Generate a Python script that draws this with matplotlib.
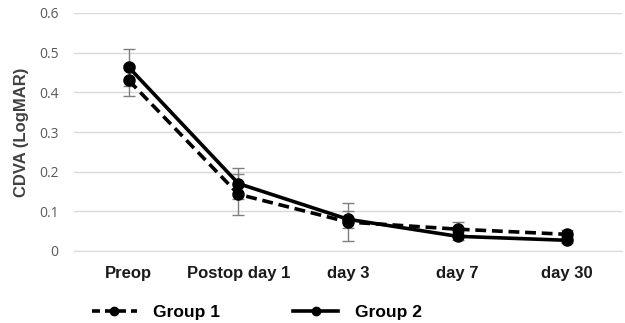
import matplotlib
matplotlib.use("Agg")
import matplotlib.pyplot as plt
from matplotlib.lines import Line2D

categories = ["Preop", "Postop day 1", "day 3", "day 7", "day 30"]
group1 = [0.430, 0.143, 0.073, 0.055, 0.042]
group1_err = [0.040, 0.052, 0.048, 0.018, 0.011]
group2 = [0.463, 0.170, 0.080, 0.037, 0.027]
group2_err = [0.047, 0.039, 0.022, 0.010, 0.008]
yticks = [0, 0.1, 0.2, 0.3, 0.4, 0.5, 0.6]
ytick_labels = ["0", "0.1", "0.2", "0.3", "0.4", "0.5", "0.6"]

fig = plt.figure(figsize=(6.25, 3.23), dpi=100)
ax = fig.add_axes([74/625, 1-251/323, 548/625, 238/323])

x = list(range(len(categories)))
ax.errorbar(x, group1, yerr=group1_err, fmt="none", ecolor="#7f7f7f",
            elinewidth=1, capsize=4, capthick=1, zorder=2)
ax.errorbar(x, group2, yerr=group2_err, fmt="none", ecolor="#7f7f7f",
            elinewidth=1, capsize=4, capthick=1, zorder=2)
ax.plot(x, group1, color="black", linestyle=(0, (3, 1.6)), linewidth=2.6,
        marker="o", markersize=8, zorder=3, label="Group 1")
ax.plot(x, group2, color="black", linestyle="-", linewidth=2.6,
        marker="o", markersize=8, zorder=4, label="Group 2")

ax.set_xlim(-0.5, len(categories) - 0.5)
ax.set_ylim(0, 0.6)
ax.set_yticks(yticks)
ax.set_yticklabels(ytick_labels, color="#595959", fontsize=10,
                   family="Open Sans")
ax.set_xticks(x)
ax.set_xticklabels(categories, fontsize=12, fontweight="bold",
                   family="Liberation Sans", color="#1a1a1a")
ax.tick_params(axis="x", length=0, pad=11)
ax.tick_params(axis="y", length=0, pad=11)
ax.yaxis.grid(True, color="#d9d9d9", linewidth=1)
ax.set_axisbelow(True)
for s in ax.spines.values():
    s.set_visible(False)
ax.spines["bottom"].set_visible(True)
ax.spines["bottom"].set_color("#d9d9d9")

ax.set_ylabel("CDVA (LogMAR)", fontsize=12, fontweight="bold",
              family="Liberation Sans", color="#404040", labelpad=7)

handles = [
    Line2D([], [], color="black", linestyle=(0, (2.2, 1.4)), linewidth=2.6,
           marker="o", markersize=6),
    Line2D([], [], color="black", linestyle="-", linewidth=2.6,
           marker="o", markersize=6),
]
fig.legend(handles, ["Group 1", "Group 2"], loc="center left",
           bbox_to_anchor=(76/625, 1-312/323), ncol=2, frameon=False,
           prop={"family": "Liberation Sans", "weight": "bold", "size": 12.5},
           handlelength=2.6, handletextpad=0.95, columnspacing=4.2)

fig.savefig("out.png", dpi=100)
